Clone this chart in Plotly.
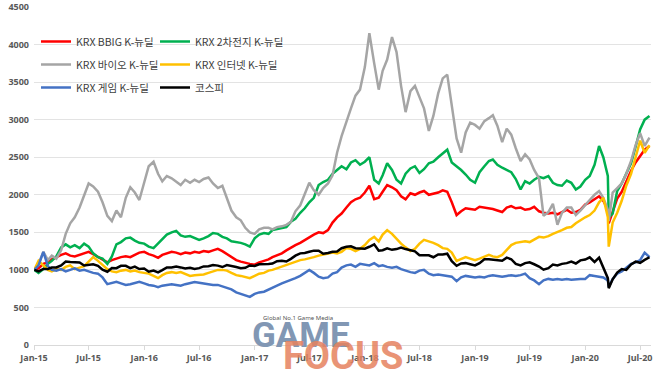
import plotly.graph_objects as go

# ---- x grid: first trading day, then 1st/16th of each month, plus the Mar-2020 crash day
dates = ["2015-01-02", "2015-01-16"]
for y in range(2015, 2021):
    for m in range(1, 13):
        for d in (1, 16):
            s = f"{y}-{m:02d}-{d:02d}"
            if s <= "2015-01-16":
                continue
            if s > "2020-08-01":
                continue
            dates.append(s)
            if s == "2020-03-16":
                dates.append("2020-03-19")

bbig = [
    1000, 1020, 1080, 1100, 1140, 1170, 1200, 1220, 1190, 1180, 1200, 1220,
    1240, 1210, 1170, 1130, 1100, 1130, 1150, 1170, 1180, 1170, 1200, 1230,
    1240, 1210, 1190, 1160, 1200, 1220, 1240, 1230, 1210, 1230, 1220, 1240,
    1230, 1250, 1240, 1260, 1280, 1250, 1210, 1170, 1130, 1110, 1090, 1080,
    1070, 1100, 1120, 1140, 1170, 1190, 1220, 1260, 1300, 1330, 1360, 1400,
    1440, 1470, 1500, 1490, 1530, 1630, 1700, 1750, 1830, 1900, 1940, 1960,
    2030, 2120, 1940, 1960, 2040, 2130, 2100, 2060, 1980, 1940, 2020, 2000,
    2030, 2050, 2000, 2010, 2030, 2060, 2040, 1900, 1730, 1780, 1820, 1810,
    1800, 1840, 1830, 1820, 1810, 1790, 1770, 1830, 1850, 1820, 1830, 1800,
    1810, 1840, 1780, 1760, 1750, 1760, 1740, 1770, 1800, 1760, 1770, 1800,
    1870, 1900, 1940, 1980, 1920, 1800, 1620, 1780, 1950, 2040, 2180, 2320,
    2430, 2520, 2600, 2650,
]
battery = [
    1000, 960, 1010, 1080, 1120, 1180, 1300, 1340, 1300, 1330, 1290, 1350,
    1310, 1220, 1170, 1150, 1080, 1180, 1340, 1370, 1420, 1430, 1390, 1360,
    1350, 1310, 1290, 1350, 1420, 1470, 1500, 1520, 1460, 1440, 1450, 1420,
    1400, 1420, 1450, 1490, 1480, 1440, 1420, 1380, 1370, 1360, 1340, 1310,
    1420, 1470, 1490, 1480, 1530, 1540, 1550, 1570, 1640, 1680, 1760, 1820,
    1900, 1960, 2130, 2170, 2200, 2280, 2330, 2380, 2340, 2430, 2460, 2400,
    2440, 2500, 2200, 2150, 2260, 2420, 2330, 2200, 2150, 2280, 2350, 2380,
    2290, 2340, 2420, 2440, 2500, 2550, 2600, 2430, 2380, 2330, 2270, 2200,
    2160, 2300, 2380, 2450, 2470, 2400, 2360, 2330, 2300, 2210, 2070, 2180,
    2150, 2200, 2240, 2220, 2250, 2160, 2130, 2120, 2190, 2160, 2070, 2110,
    2200, 2250, 2400, 2650, 2500, 2250, 1700, 1750, 2050, 2150, 2280, 2420,
    2640, 2870, 3000, 3050,
]
bio = [
    1000, 1080, 1240, 1130, 1190, 1150, 1260, 1480, 1620, 1700, 1830, 2000,
    2150, 2110, 2040, 1900, 1720, 1650, 1790, 1700, 1960, 2100, 2030, 1930,
    2150, 2380, 2440, 2280, 2180, 2250, 2220, 2170, 2130, 2200, 2160, 2200,
    2170, 2210, 2230, 2150, 2090, 2120, 1950, 1790, 1700, 1660, 1560, 1500,
    1480, 1540, 1560, 1560, 1540, 1570, 1580, 1600, 1640, 1780, 1860, 2010,
    2160, 2060, 2000, 2090, 2150, 2260, 2560, 2780, 2980, 3150, 3320, 3400,
    3700, 4150, 3750, 3400, 3650, 3800, 4100, 3900, 3450, 3100, 3380, 3450,
    3300, 3150, 2850, 3050, 3350, 3550, 3600, 3200, 2750, 2560, 2830, 2960,
    2930, 2880, 2980, 3020, 3060, 2920, 2700, 2880, 2800, 2620, 2450, 2540,
    2470, 2330, 2220, 1720, 1770, 1880, 1600, 1760, 1830, 1830, 1730, 1790,
    1870, 1930, 2000, 2050, 1960, 1800, 1650, 2030, 2090, 2150, 2280, 2450,
    2660, 2820, 2650, 2760,
]
internet = [
    1000, 1120, 1060, 1000, 980, 1010, 1000, 1040, 1060, 1010, 1030, 1050,
    1110, 1170, 1120, 1060, 1010, 980, 970, 990, 1000, 980, 990, 970,
    960, 950, 920, 890, 930, 960, 970, 960, 970, 950, 920, 930,
    930, 940, 960, 980, 1000, 1000, 990, 960, 930, 920, 910, 890,
    920, 950, 960, 990, 1000, 1020, 1040, 1060, 1090, 1100, 1130, 1140,
    1150, 1170, 1190, 1200, 1210, 1230, 1220, 1240, 1290, 1280, 1250, 1280,
    1330, 1400, 1440, 1380, 1470, 1530, 1480, 1410, 1350, 1300, 1250, 1280,
    1350, 1400, 1380, 1360, 1330, 1290, 1280, 1230, 1120, 1150, 1170, 1150,
    1130, 1150, 1180, 1200, 1180, 1170, 1200, 1260, 1330, 1360, 1370, 1380,
    1370, 1400, 1440, 1430, 1450, 1480, 1510, 1530, 1560, 1570, 1620, 1660,
    1700, 1730, 1790, 1900, 1960, 1700, 1310, 1630, 1760, 1920, 2120, 2280,
    2500, 2720, 2560, 2660,
]
game = [
    1000, 1060, 1240, 1050, 1000, 990, 1010, 980, 1000, 1020, 990, 1000,
    980, 960, 950, 900, 810, 820, 840, 820, 800, 810, 830, 840,
    820, 800, 790, 770, 790, 800, 810, 800, 790, 810, 830, 840,
    830, 820, 810, 800, 800, 780, 770, 740, 700, 680, 650, 640,
    680, 700, 710, 740, 770, 790, 820, 840, 860, 890, 920, 960,
    1000, 960, 910, 890, 900, 950, 970, 1030, 1060, 1070, 1040, 1080,
    1070, 1060, 1090, 1050, 1060, 1040, 1030, 1040, 1010, 990, 970, 960,
    990, 1000, 950, 930, 940, 930, 920, 910, 850, 900, 920, 910,
    900, 910, 900, 920, 930, 920, 910, 920, 930, 920, 930, 950,
    890, 860, 810, 860, 880, 870, 880, 870, 880, 870, 880, 880,
    880, 930, 920, 910, 900, 860, 770, 880, 950, 980, 1030, 1080,
    1100, 1130, 1230, 1170,
]
kospi = [
    1000, 980, 1012, 1012, 1031, 1032, 1060, 1111, 1104, 1101, 1098, 1059,
    1070, 1075, 1054, 1002, 975, 1025, 1023, 1054, 1054, 1023, 1044, 1012,
    1018, 976, 992, 966, 997, 1033, 1033, 1044, 1033, 1018, 1028, 1012,
    1023, 1046, 1049, 1064, 1057, 1038, 1064, 1054, 1038, 1023, 1028, 1059,
    1052, 1075, 1075, 1080, 1085, 1116, 1122, 1111, 1147, 1189, 1220, 1225,
    1241, 1256, 1256, 1215, 1225, 1241, 1246, 1288, 1308, 1314, 1288, 1288,
    1282, 1308, 1340, 1256, 1262, 1288, 1267, 1277, 1298, 1277, 1262, 1246,
    1194, 1194, 1194, 1168, 1205, 1205, 1215, 1116, 1054, 1085, 1090, 1075,
    1059, 1090, 1142, 1142, 1137, 1127, 1122, 1163, 1142, 1080, 1059, 1090,
    1101, 1075, 1044, 1002, 1023, 1070, 1059, 1080, 1090, 1111, 1085, 1127,
    1137, 1168, 1106, 1163, 1032, 890, 757, 875, 964, 1011, 1000, 1072,
    1110, 1094, 1133, 1168,
]

names = ["KRX BBIG K-뉴딜", "KRX 2차전지 K-뉴딜", "KRX 바이오 K-뉴딜",
         "KRX 인터넷 K-뉴딜", "KRX 게임 K-뉴딜", "코스피"]
series = [bbig, battery, bio, internet, game, kospi]
colors = ["#FF0000", "#00B050", "#A5A5A5", "#FFC000", "#4472C4", "#000000"]
legends = ["legend", "legend2", "legend", "legend2", "legend", "legend2"]

fig = go.Figure()
for n, s, c, lg in zip(names, series, colors, legends):
    fig.add_trace(go.Scatter(x=dates, y=s, name=n, mode="lines",
                             line=dict(color=c, width=2.5),
                             legend=lg, legendgroup=n))

tick_font = dict(family="Noto Sans, Noto Sans CJK KR, sans-serif", size=9,
                 color="#595959", weight="bold")
leg_font = dict(family="Noto Sans CJK KR, sans-serif", size=10.5, color="#404040")

L, T, R, B = 34, 7, 9, 32
W, H = 660, 377
PW, PH = W - L - R, H - T - B

def px(xp):
    return (xp - L) / PW

def py(yp):
    return (H - B - yp) / PH

fig.update_layout(
    width=W, height=H,
    margin=dict(l=L, r=R, t=T, b=B, autoexpand=False),
    paper_bgcolor="white", plot_bgcolor="white",
    xaxis=dict(type="date", range=["2015-01-01", "2020-08-06"],
               tick0="2015-01-01", dtick="M6", tickformat="%b-%y",
               showgrid=False, showline=True, linecolor="#D9D9D9", linewidth=1,
               ticks="outside", ticklen=4, tickcolor="#D9D9D9",
               tickfont=tick_font, zeroline=False, automargin=False),
    yaxis=dict(range=[0, 4500], dtick=500, showgrid=True, gridcolor="#E3E3E3",
               gridwidth=1, zeroline=False, showline=False, tickfont=tick_font,
               ticks="", ticklabelstandoff=4, automargin=False),
    legend=dict(x=px(36), y=py(27), xanchor="left", yanchor="top",
                bgcolor="rgba(0,0,0,0)", font=leg_font, itemwidth=30,
                tracegroupgap=4),
    legend2=dict(x=px(155), y=py(27), xanchor="left", yanchor="top",
                 bgcolor="rgba(0,0,0,0)", font=leg_font, itemwidth=30,
                 tracegroupgap=4),
    showlegend=True,
)

fig.add_annotation(text="Global No.1 Game Media", x=px(298), y=py(318),
                   xref="paper", yref="paper", xanchor="center", yanchor="middle",
                   showarrow=False, font=dict(family="Noto Sans", size=6, color="#555555"))
fig.add_annotation(text="<b>GAME</b>", x=px(301), y=py(335),
                   xref="paper", yref="paper", xanchor="center", yanchor="middle",
                   showarrow=False,
                   font=dict(family="Liberation Sans Narrow, Roboto", size=35, color="#8197B4"))
fig.add_annotation(text="<b>FOCUS</b>", x=px(343), y=py(356),
                   xref="paper", yref="paper", xanchor="center", yanchor="middle",
                   showarrow=False, opacity=0.85,
                   font=dict(family="Liberation Sans Narrow, Roboto", size=38, color="#E6825F"))

fig.write_html("out.html", config={"displayModeBar": False},
               post_script="document.body.style.margin='0';document.body.style.padding='0';")
